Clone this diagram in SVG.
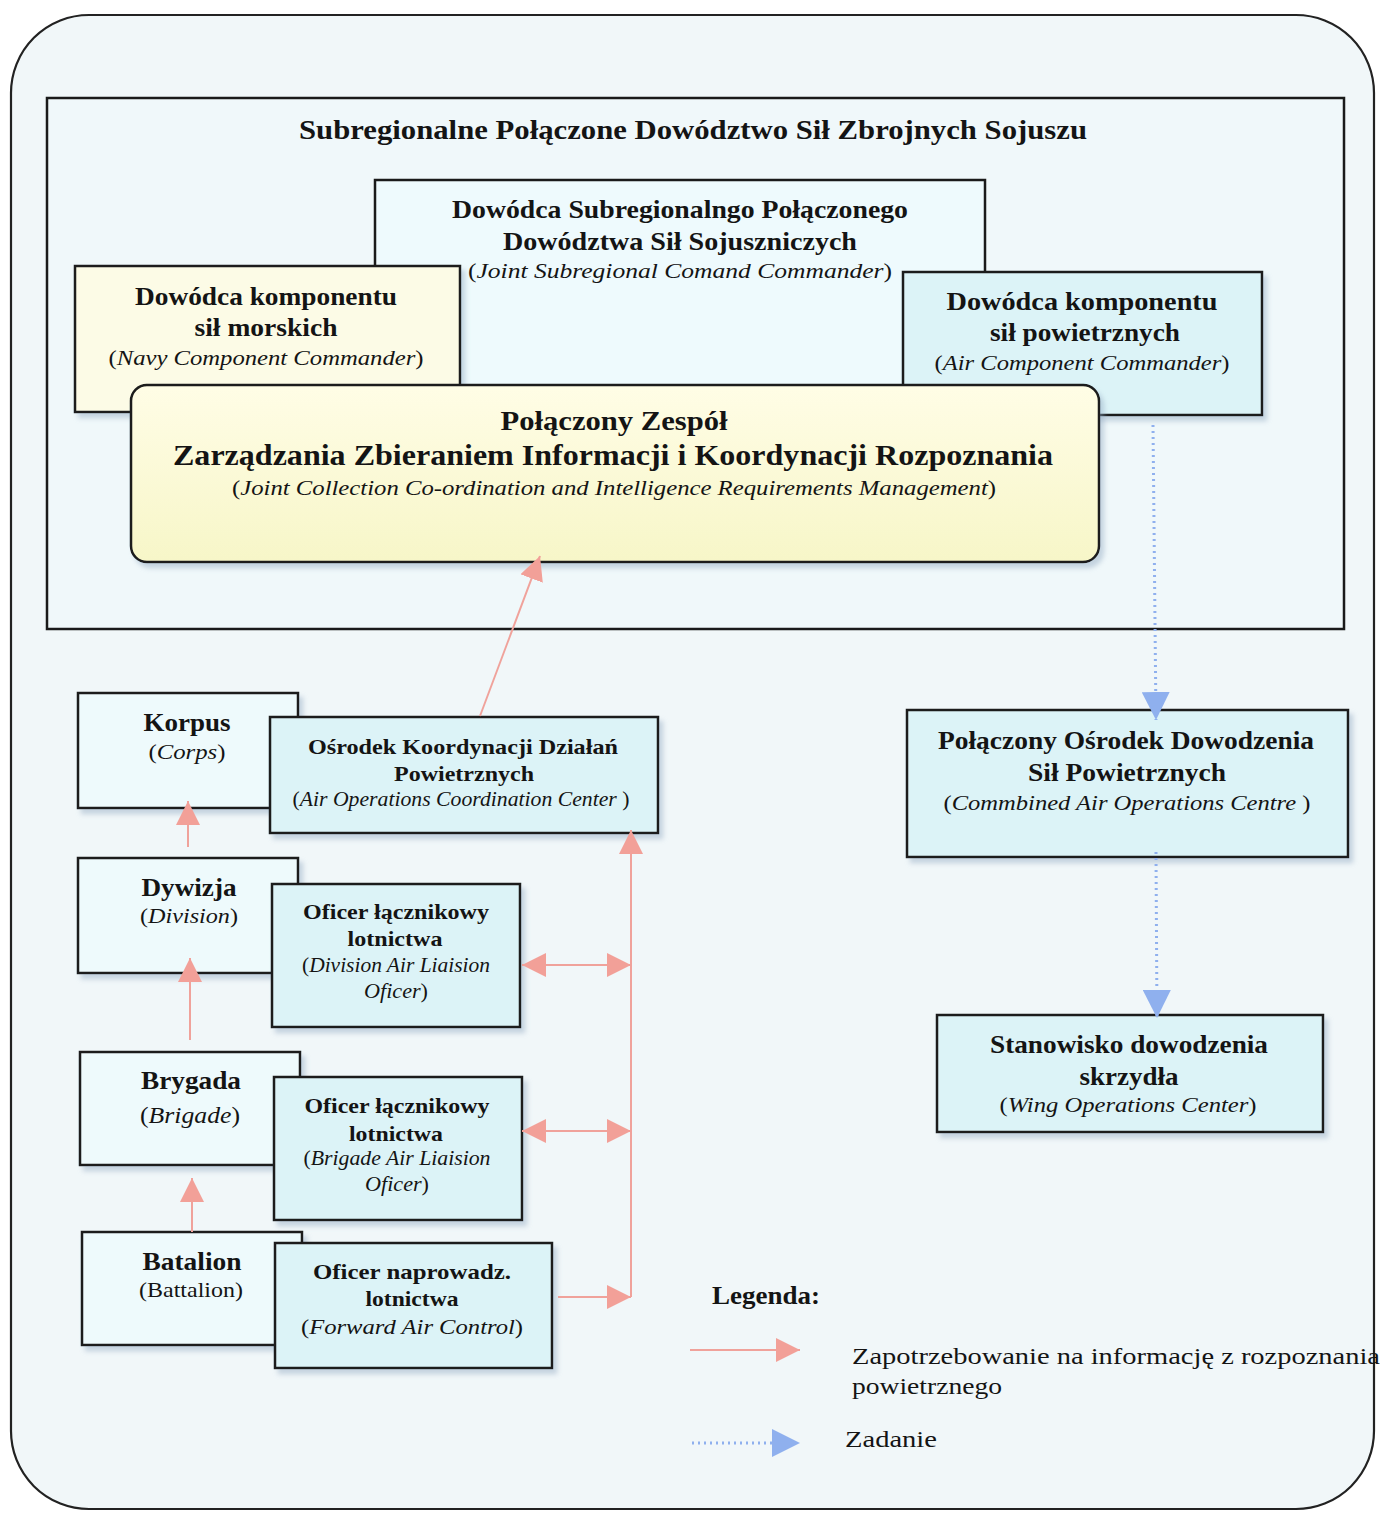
<svg xmlns="http://www.w3.org/2000/svg" width="1382" height="1514" viewBox="0 0 1382 1514" font-family="'Liberation Serif', 'Times New Roman', Times, serif">
<defs>
<style>
text{font-family:'Liberation Serif', 'Times New Roman', Times, serif;fill:#141414;}
.b{font-weight:bold;}
.i{font-style:italic;}
.box{stroke:#1a1a1a;stroke-width:2.5;}
.cy{fill:#dcf3f7;}
.lt{fill:#eefafc;}
.red{stroke:#f0a29b;stroke-width:2;fill:none;}
.blue{stroke:#8fb0ee;stroke-width:3;stroke-dasharray:2 4;fill:none;}
</style>
<filter id="sh" x="-5%" y="-5%" width="115%" height="120%">
<feDropShadow dx="4" dy="5" stdDeviation="2.5" flood-color="#8ea6bf" flood-opacity="0.45"/>
</filter>
<linearGradient id="yg" x1="0" y1="0" x2="0" y2="1">
<stop offset="0" stop-color="#fffde6"/>
<stop offset="1" stop-color="#f7f6c8"/>
</linearGradient>
<marker id="ra" viewBox="0 0 10 10" refX="10" refY="5" markerWidth="24" markerHeight="24" markerUnits="userSpaceOnUse" orient="auto">
<path d="M0,0 L10,5 L0,10 Z" fill="#f2a098"/>
</marker>
<marker id="rs" viewBox="0 0 10 10" refX="0" refY="5" markerWidth="24" markerHeight="24" markerUnits="userSpaceOnUse" orient="auto">
<path d="M10,0 L0,5 L10,10 Z" fill="#f2a098"/>
</marker>
<marker id="ba" viewBox="0 0 10 10" refX="10" refY="5" markerWidth="28" markerHeight="28" markerUnits="userSpaceOnUse" orient="auto">
<path d="M0,0 L10,5 L0,10 Z" fill="#8fb0ee"/>
</marker>
</defs>

<rect x="0" y="0" width="1382" height="1514" fill="#ffffff"/>
<rect x="11" y="15" width="1363" height="1494" rx="78" ry="78" fill="#f1f7f9" stroke="#222" stroke-width="2.2"/>

<g id="subregional">
<rect x="47" y="98" width="1297" height="531" fill="#f0f8fa" stroke="#1a1a1a" stroke-width="2.5"/>
<text class="b" x="693" y="139" font-size="28" text-anchor="middle" textLength="788" lengthAdjust="spacingAndGlyphs">Subregionalne Połączone Dowództwo Sił Zbrojnych Sojuszu</text>
</g>

<g id="joint-commander">
<rect class="box" x="375" y="180" width="610" height="215" fill="#eefafd"/>
<text class="b" x="680" y="218" font-size="25" text-anchor="middle" textLength="456" lengthAdjust="spacingAndGlyphs">Dowódca Subregionalngo Połączonego</text>
<text class="b" x="680" y="250" font-size="25" text-anchor="middle" textLength="354" lengthAdjust="spacingAndGlyphs">Dowództwa  Sił Sojuszniczych</text>
<text x="680" y="278" font-size="22" text-anchor="middle" textLength="424" lengthAdjust="spacingAndGlyphs">(<tspan class="i">Joint Subregional  Comand  Commander</tspan>)</text>
</g>

<g id="navy-commander">
<rect class="box" x="75" y="266" width="385" height="146" fill="#fcfbe6" filter="url(#sh)"/>
<text class="b" x="266" y="305" font-size="25" text-anchor="middle" textLength="262" lengthAdjust="spacingAndGlyphs">Dowódca komponentu</text>
<text class="b" x="266" y="336" font-size="25" text-anchor="middle" textLength="143" lengthAdjust="spacingAndGlyphs">sił morskich</text>
<text x="266" y="365" font-size="22" text-anchor="middle" textLength="315" lengthAdjust="spacingAndGlyphs">(<tspan class="i">Navy Component Commander</tspan>)</text>
</g>

<g id="air-commander">
<rect class="box cy" x="903" y="272" width="359" height="143" filter="url(#sh)"/>
<text class="b" x="1082" y="310" font-size="25" text-anchor="middle" textLength="271" lengthAdjust="spacingAndGlyphs">Dowódca  komponentu</text>
<text class="b" x="1085" y="341" font-size="25" text-anchor="middle" textLength="190" lengthAdjust="spacingAndGlyphs">sił powietrznych</text>
<text x="1082" y="370" font-size="22" text-anchor="middle" textLength="295" lengthAdjust="spacingAndGlyphs">(<tspan class="i">Air Component Commander</tspan>)</text>
</g>

<g id="jcc-irm">
<rect class="box" x="131" y="385" width="968" height="177" rx="16" ry="16" fill="url(#yg)" filter="url(#sh)"/>
<text class="b" x="614" y="430" font-size="27" text-anchor="middle" textLength="227" lengthAdjust="spacingAndGlyphs">Połączony Zespół</text>
<text class="b" x="613" y="465" font-size="29" text-anchor="middle" textLength="880" lengthAdjust="spacingAndGlyphs">Zarządzania  Zbieraniem  Informacji i  Koordynacji  Rozpoznania</text>
<text x="614" y="495" font-size="22" text-anchor="middle" textLength="764" lengthAdjust="spacingAndGlyphs">(<tspan class="i">Joint Collection Co-ordination and Intelligence Requirements Management</tspan>)</text>
</g>

<g id="korpus">
<rect class="box lt" x="78" y="693" width="220" height="115" filter="url(#sh)"/>
<text class="b" x="187" y="731" font-size="25" text-anchor="middle" textLength="87" lengthAdjust="spacingAndGlyphs">Korpus</text>
<text x="187" y="759" font-size="22" text-anchor="middle" textLength="77" lengthAdjust="spacingAndGlyphs">(<tspan class="i">Corps</tspan>)</text>
</g>

<g id="aocc">
<rect class="box cy" x="270" y="717" width="388" height="116" filter="url(#sh)"/>
<text class="b" x="463" y="754" font-size="22" text-anchor="middle" textLength="310" lengthAdjust="spacingAndGlyphs">Ośrodek Koordynacji Działań</text>
<text class="b" x="464" y="781" font-size="22" text-anchor="middle" textLength="140" lengthAdjust="spacingAndGlyphs">Powietrznych</text>
<text x="461" y="806" font-size="20" text-anchor="middle" textLength="337" lengthAdjust="spacingAndGlyphs">(<tspan class="i">Air Operations Coordination Center </tspan>)</text>
</g>

<g id="dywizja">
<rect class="box lt" x="78" y="858" width="220" height="115" filter="url(#sh)"/>
<text class="b" x="189" y="896" font-size="25" text-anchor="middle" textLength="95" lengthAdjust="spacingAndGlyphs">Dywizja</text>
<text x="189" y="923" font-size="22" text-anchor="middle" textLength="98" lengthAdjust="spacingAndGlyphs">(<tspan class="i">Division</tspan>)</text>
</g>

<g id="division-officer">
<rect class="box cy" x="272" y="884" width="248" height="143" filter="url(#sh)"/>
<text class="b" x="396" y="919" font-size="22" text-anchor="middle" textLength="186" lengthAdjust="spacingAndGlyphs">Oficer łącznikowy</text>
<text class="b" x="395" y="946" font-size="22" text-anchor="middle" textLength="95" lengthAdjust="spacingAndGlyphs">lotnictwa</text>
<text x="396" y="972" font-size="20" text-anchor="middle" textLength="188" lengthAdjust="spacingAndGlyphs">(<tspan class="i">Division Air Liaision</tspan></text>
<text x="396" y="998" font-size="20" text-anchor="middle" textLength="64" lengthAdjust="spacingAndGlyphs"><tspan class="i">Oficer</tspan>)</text>
</g>

<g id="brygada">
<rect class="box lt" x="80" y="1052" width="220" height="113" filter="url(#sh)"/>
<text class="b" x="191" y="1089" font-size="25" text-anchor="middle" textLength="100" lengthAdjust="spacingAndGlyphs">Brygada</text>
<text x="190" y="1123" font-size="24" text-anchor="middle" textLength="100" lengthAdjust="spacingAndGlyphs">(<tspan class="i">Brigade</tspan>)</text>
</g>

<g id="brigade-officer">
<rect class="box cy" x="274" y="1077" width="248" height="143" filter="url(#sh)"/>
<text class="b" x="397" y="1113" font-size="22" text-anchor="middle" textLength="185" lengthAdjust="spacingAndGlyphs">Oficer łącznikowy</text>
<text class="b" x="396" y="1141" font-size="22" text-anchor="middle" textLength="94" lengthAdjust="spacingAndGlyphs">lotnictwa</text>
<text x="397" y="1165" font-size="20" text-anchor="middle" textLength="187" lengthAdjust="spacingAndGlyphs">(<tspan class="i">Brigade Air Liaision</tspan></text>
<text x="397" y="1191" font-size="20" text-anchor="middle" textLength="64" lengthAdjust="spacingAndGlyphs"><tspan class="i">Oficer</tspan>)</text>
</g>

<g id="batalion">
<rect class="box lt" x="82" y="1232" width="220" height="113" filter="url(#sh)"/>
<text class="b" x="192" y="1270" font-size="25" text-anchor="middle" textLength="99" lengthAdjust="spacingAndGlyphs">Batalion</text>
<text x="191" y="1297" font-size="22" text-anchor="middle" textLength="104" lengthAdjust="spacingAndGlyphs">(Battalion)</text>
</g>

<g id="fac">
<rect class="box cy" x="275" y="1243" width="277" height="125" filter="url(#sh)"/>
<text class="b" x="412" y="1279" font-size="22" text-anchor="middle" textLength="198" lengthAdjust="spacingAndGlyphs">Oficer  naprowadz.</text>
<text class="b" x="412" y="1306" font-size="22" text-anchor="middle" textLength="93" lengthAdjust="spacingAndGlyphs">lotnictwa</text>
<text x="412" y="1334" font-size="22" text-anchor="middle" textLength="222" lengthAdjust="spacingAndGlyphs">(<tspan class="i">Forward Air Control</tspan>)</text>
</g>

<g id="caoc">
<rect class="box cy" x="907" y="710" width="441" height="147" filter="url(#sh)"/>
<text class="b" x="1126" y="749" font-size="25" text-anchor="middle" textLength="376" lengthAdjust="spacingAndGlyphs">Połączony Ośrodek Dowodzenia</text>
<text class="b" x="1127" y="781" font-size="25" text-anchor="middle" textLength="198" lengthAdjust="spacingAndGlyphs">Sił Powietrznych</text>
<text x="1127" y="810" font-size="22" text-anchor="middle" textLength="367" lengthAdjust="spacingAndGlyphs">(<tspan class="i">Commbined Air Operations Centre </tspan>)</text>
</g>

<g id="wing">
<rect class="box cy" x="937" y="1015" width="386" height="117" filter="url(#sh)"/>
<text class="b" x="1129" y="1053" font-size="25" text-anchor="middle" textLength="278" lengthAdjust="spacingAndGlyphs">Stanowisko dowodzenia</text>
<text class="b" x="1129" y="1085" font-size="25" text-anchor="middle" textLength="99" lengthAdjust="spacingAndGlyphs">skrzydła</text>
<text x="1128" y="1112" font-size="22" text-anchor="middle" textLength="257" lengthAdjust="spacingAndGlyphs">(<tspan class="i">Wing Operations Center</tspan>)</text>
</g>

<g id="connectors">
<line class="red" x1="480" y1="716" x2="540" y2="556" marker-end="url(#ra)"/>
<line class="red" x1="188" y1="847" x2="188" y2="801" marker-end="url(#ra)"/>
<line class="red" x1="190" y1="1040" x2="190" y2="958" marker-end="url(#ra)"/>
<line class="red" x1="192" y1="1232" x2="192" y2="1178" marker-end="url(#ra)"/>
<line class="red" x1="631" y1="1297" x2="631" y2="830" marker-end="url(#ra)"/>
<line class="red" x1="522" y1="965" x2="631" y2="965" marker-start="url(#rs)" marker-end="url(#ra)"/>
<line class="red" x1="522" y1="1131" x2="631" y2="1131" marker-start="url(#rs)" marker-end="url(#ra)"/>
<line class="red" x1="558" y1="1297" x2="631" y2="1297" marker-end="url(#ra)"/>
<line class="blue" x1="1153" y1="425" x2="1156" y2="720" marker-end="url(#ba)"/>
<line class="blue" x1="1156" y1="852" x2="1157" y2="1018" marker-end="url(#ba)"/>
</g>

<g id="legend">
<text class="b" x="712" y="1304" font-size="25" textLength="108" lengthAdjust="spacingAndGlyphs">Legenda:</text>
<line class="red" x1="690" y1="1350" x2="800" y2="1350" marker-end="url(#ra)"/>
<text x="852" y="1364" font-size="24" textLength="528" lengthAdjust="spacingAndGlyphs">Zapotrzebowanie  na informację z  rozpoznania</text>
<text x="852" y="1394" font-size="24" textLength="150" lengthAdjust="spacingAndGlyphs">powietrznego</text>
<line class="blue" x1="692" y1="1443" x2="800" y2="1443" marker-end="url(#ba)"/>
<text x="845" y="1447" font-size="24" textLength="92" lengthAdjust="spacingAndGlyphs">Zadanie</text>
</g>
</svg>
